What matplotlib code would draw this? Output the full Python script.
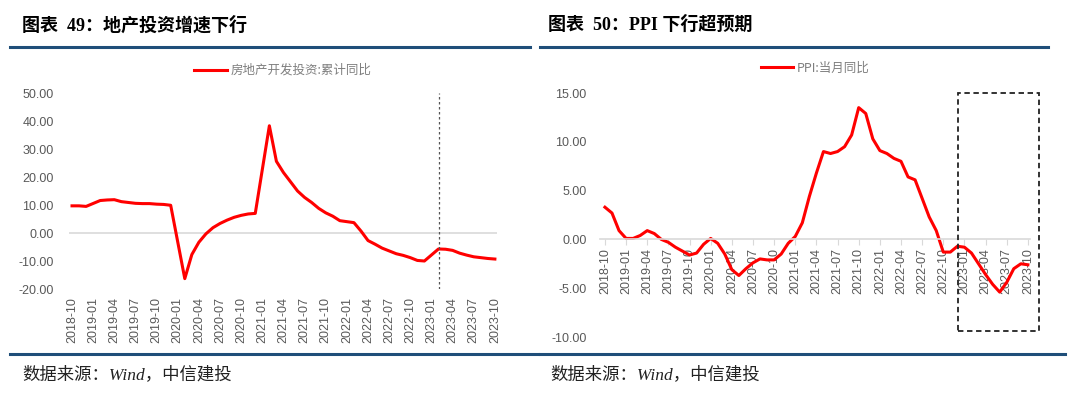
import matplotlib.pyplot as plt
from matplotlib.lines import Line2D
from matplotlib.patches import Rectangle

plt.rcParams['font.family'] = ['Liberation Sans', 'Noto Sans CJK SC']

# months from 2018-10 to 2023-10
months = []
for y in range(2018, 2024):
    for m in range(1, 13):
        if (y, m) >= (2018, 10) and (y, m) <= (2023, 10):
            months.append('%d-%02d' % (y, m))
tick_labels = months[::3]

# 房地产开发投资:累计同比 (no January data)
inv_months = ['2018-10', '2018-11', '2018-12',
              '2019-02', '2019-03', '2019-04', '2019-05', '2019-06', '2019-07', '2019-08', '2019-09', '2019-10', '2019-11', '2019-12',
              '2020-02', '2020-03', '2020-04', '2020-05', '2020-06', '2020-07', '2020-08', '2020-09', '2020-10', '2020-11', '2020-12',
              '2021-02', '2021-03', '2021-04', '2021-05', '2021-06', '2021-07', '2021-08', '2021-09', '2021-10', '2021-11', '2021-12',
              '2022-02', '2022-03', '2022-04', '2022-05', '2022-06', '2022-07', '2022-08', '2022-09', '2022-10', '2022-11', '2022-12',
              '2023-02', '2023-03', '2023-04', '2023-05', '2023-06', '2023-07', '2023-08', '2023-09', '2023-10']
inv_values = [9.7, 9.7, 9.5,
              11.6, 11.8, 11.9, 11.2, 10.9, 10.6, 10.5, 10.5, 10.3, 10.2, 9.9,
              -16.3, -7.7, -3.3, -0.3, 1.9, 3.4, 4.6, 5.6, 6.3, 6.8, 7.0,
              38.3, 25.6, 21.6, 18.3, 15.0, 12.7, 10.9, 8.8, 7.2, 6.0, 4.4,
              3.7, 0.7, -2.7, -4.0, -5.4, -6.4, -7.4, -8.0, -8.8, -9.8, -10.0,
              -5.7, -5.8, -6.2, -7.2, -7.9, -8.5, -8.8, -9.1, -9.3]

# PPI:当月同比
ppi_values = [3.3, 2.7, 0.9,
              0.1, 0.1, 0.4, 0.9, 0.6, 0.0, -0.3, -0.8, -1.2, -1.6, -1.4, -0.5,
              0.1, -0.4, -1.5, -3.1, -3.7, -3.0, -2.4, -2.0, -2.1, -2.1, -1.5, -0.4,
              0.3, 1.7, 4.4, 6.8, 9.0, 8.8, 9.0, 9.5, 10.7, 13.5, 12.9, 10.3,
              9.1, 8.8, 8.3, 8.0, 6.4, 6.1, 4.2, 2.3, 0.9, -1.3, -1.3, -0.7,
              -0.8, -1.4, -2.5, -3.6, -4.6, -5.4, -4.4, -3.0, -2.5, -2.6]

W, H = 1080, 393
fig = plt.figure(figsize=(W / 100, H / 100), dpi=100)

def px(x0, y0, x1, y1):
    return [x0 / W, 1 - y1 / H, (x1 - x0) / W, (y1 - y0) / H]

gray = '#595959'
red = '#ff0000'
blue = '#1f4e79'
cjk_serif = ['Liberation Serif', 'Noto Sans CJK SC']

# headers / footers
for x0, title in [(22, '图表  49：地产投资增速下行'), (548, '图表  50：PPI 下行超预期')]:
    fig.text(x0 / W, 1 - 25 / H, title, fontsize=13, fontweight='bold',
             family=cjk_serif, va='center', ha='left')
for x0, x1 in [(10, 530), (540, 1048)]:
    fig.add_artist(Line2D([x0 / W, x1 / W], [1 - 47 / H] * 2, color=blue, lw=2.2))
for x0, x1 in [(10, 538), (540, 1065)]:
    fig.add_artist(Line2D([x0 / W, x1 / W], [1 - 354 / H] * 2, color=blue, lw=2.2))
for x0 in [22, 550]:
    fig.text(x0 / W, 1 - 375 / H, '数据来源：Wind，中信建投', fontsize=12.5, style='italic',
             family=cjk_serif, va='center', ha='left', color='#222222')

# left chart
idx = {m: i for i, m in enumerate(months)}
inv_x = [idx[m] for m in inv_months]
ax1 = fig.add_axes(px(68.5, 93, 497, 289))
ax1.plot(inv_x, inv_values, color=red, lw=2.2, label='房地产开发投资:累计同比')
ax1.axhline(0, color='#d9d9d9', lw=1.2, zorder=0)
ax1.axvline(idx['2023-02'], color='#555555', lw=0.9, ls=(0, (2, 2)))
ax1.set_xlim(-0.5, 60.3)
ax1.set_ylim(-20, 50)
ax1.set_yticks(range(-20, 51, 10))
ax1.set_yticklabels(['%.2f' % v for v in range(-20, 51, 10)])
ax1.set_xticks(range(0, 61, 3))
ax1.set_xticklabels(tick_labels, rotation=90)
ax1.tick_params(axis='y', length=0, pad=10.5, labelsize=9, labelcolor=gray)
ax1.tick_params(axis='x', length=0, pad=6, labelsize=9, labelcolor=gray)
for s in ax1.spines.values():
    s.set_visible(False)
ax1.legend(loc='lower center', bbox_to_anchor=(0.5, 1.05), frameon=False,
           prop={'family': 'Noto Sans CJK SC', 'size': 9}, labelcolor='#7f7f7f',
           handlelength=2.6, borderpad=0, handletextpad=0.3)

# right chart
ax2 = fig.add_axes(px(600, 93, 1030, 337))
for s in ['top', 'right', 'left']:
    ax2.spines[s].set_visible(False)
ax2.spines['bottom'].set_position(('data', 0))
ax2.spines['bottom'].set_color('#d9d9d9')
ax2.spines['bottom'].set_linewidth(1.2)
ax2.plot(range(len(ppi_values)), ppi_values, color=red, lw=2.2, label='PPI:当月同比')
ax2.set_xlim(-0.7, 60.3)
ax2.set_ylim(-10, 15)
ax2.set_yticks(range(-10, 16, 5))
ax2.set_yticklabels(['%.2f' % v for v in range(-10, 16, 5)])
ax2.set_xticks(range(0, 61, 3))
ax2.set_xticklabels(tick_labels, rotation=90)
ax2.tick_params(axis='y', length=0, pad=9.5, labelsize=9, labelcolor=gray)
ax2.tick_params(axis='x', length=4, color='#d9d9d9', pad=2, labelsize=9, labelcolor=gray)
ax2.add_patch(Rectangle((idx['2022-12'] + 0.1, -9.4), 11.5, 24.4, fill=False,
                        ls=(0, (3, 2)), lw=1.3, color='#222222', clip_on=False, zorder=5))
ax2.legend(loc='lower center', bbox_to_anchor=(0.5, 1.05), frameon=False,
           prop={'family': ['Noto Sans CJK SC'], 'size': 9}, labelcolor='#7f7f7f',
           handlelength=2.6, borderpad=0, handletextpad=0.3)

fig.savefig('out.png', dpi=100)
